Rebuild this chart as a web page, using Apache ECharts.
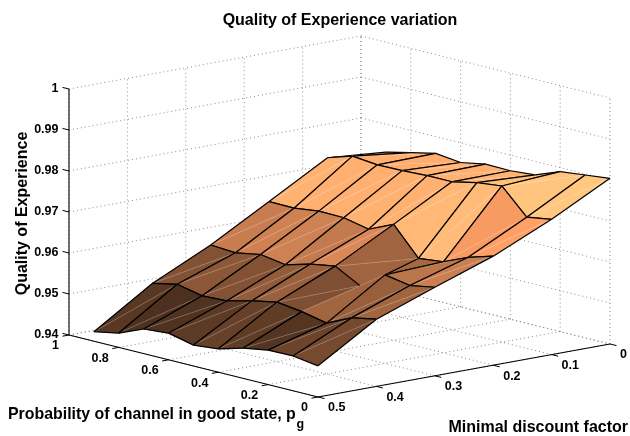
<!DOCTYPE html>
<html>
<head>
<meta charset="utf-8">
<style>html,body{margin:0;padding:0;background:#fff}#c{width:630px;height:436px}</style>
<script src="https://cdn.jsdelivr.net/npm/echarts@6/dist/echarts.min.js"></script>
</head>
<body>
<div id="c"></div>
<script>
var discount = [0.5, 0.4, 0.3, 0.2, 0.1, 0];
var channel = [0, 0.1, 0.2, 0.3, 0.4, 0.5, 0.6, 0.7, 0.8, 0.9];
// Quality of Experience: one row per discount value, one column per channel value
var qoeD50 = [.9476, .9485, .9484, .9474, .9457, .9451, .9465, .9460, .9435, .9423];
var qoeD40 = [.9564, .9552, .9524, .9537, .9545, .9533, .9518, .9515, .9528, .9515];
var qoeD30 = [.9616, .9605, .9616, .9574, .9607, .9597, .9580, .9590, .9579, .9583];
var qoeD20 = [.9666, .9648, .9622, .9615, .9683, .9656, .9669, .9670, .9662, .9663];
var qoeD10 = [.9730, .9720, .9781, .9774, .9761, .9761, .9758, .9757, .9763, .9744];
var qoeD00 = [.9804, .9797, .9790, .9767, .9762, .9763, .9752, .9759, .9746, .9732];
var qoe = [qoeD50, qoeD40, qoeD30, qoeD20, qoeD10, qoeD00];

var discountTicks = [0, 0.1, 0.2, 0.3, 0.4, 0.5];
var channelTicks = [0, 0.2, 0.4, 0.6, 0.8, 1];
var qoeTicks = [0.94, 0.95, 0.96, 0.97, 0.98, 0.99, 1];
var titleText = 'Quality of Experience variation';
var zLabel = 'Quality of Experience';
var pLabel = 'Probability of channel in good state, p';
var pSub = 'g';
var dLabel = 'Minimal discount factor';

// mesh edges around the dip at (discount row 2, channel column 3) that the view hides
var hiddenEdges = ['1,3-2,3', '2,2-2,3', '2,3-3,3'];
var partialEdges = [[2, 2, 3, 3]];

// orthographic view of the 3-D box
function project(d, p, z) {
  return [
    318 + (0.5 - d) * 584 - 249 * p,
    397 - (0.5 - d) * 106 - 62 * p - (z - 0.94) * 4100
  ];
}
var zMin = Infinity, zMax = -Infinity;
qoe.forEach(function (r) { r.forEach(function (v) { zMin = Math.min(zMin, v); zMax = Math.max(zMax, v); }); });
function copper(v) {
  var t = (v - zMin) / (zMax - zMin);
  return 'rgb(' + Math.round(255 * Math.min(1, 1.25 * t)) + ',' + Math.round(255 * 0.7812 * t) + ',' + Math.round(255 * 0.4975 * t) + ')';
}
var FONT = '"Liberation Sans", Arial, sans-serif';

// surface cells, far to near
var cells = [];
for (var i = discount.length - 2; i >= 0; i--) {
  for (var j = channel.length - 2; j >= 0; j--) cells.push([i, j]);
}
function edgeKey(a, b, c, d) {
  return (a < c || (a === c && b < d)) ? a + ',' + b + '-' + c + ',' + d : c + ',' + d + '-' + a + ',' + b;
}
function renderCell(params, api) {
  var i = api.value(0), j = api.value(1);
  function pt(a, b) { return api.coord(project(discount[a], channel[b], qoe[a][b])); }
  var corners = [[i, j], [i + 1, j], [i + 1, j + 1], [i, j + 1]];
  var pts = corners.map(function (c) { return pt(c[0], c[1]); });
  var a = pts[0], b = pts[1], c = pts[2], e = pts[3];
  var col = copper(qoe[i + 1][j]);
  function tri(p, q, r) {
    return { type: 'polygon', shape: { points: [p, q, r] }, style: { fill: col, stroke: col, lineWidth: 0.4 } };
  }
  function seg(p, q, stroke, w) {
    return { type: 'line', shape: { x1: p[0], y1: p[1], x2: q[0], y2: q[1] }, style: { stroke: stroke, lineWidth: w } };
  }
  var kids = [tri(e, b, c), tri(e, a, b), seg(e, b, 'rgba(255,255,255,0.28)', 0.7)];
  corners.forEach(function (cn, k) {
    var nx = corners[(k + 1) % 4];
    if (hiddenEdges.indexOf(edgeKey(cn[0], cn[1], nx[0], nx[1])) < 0) {
      kids.push(seg(pts[k], pts[(k + 1) % 4], '#000', 1.2));
    }
  });
  partialEdges.forEach(function (pe) {
    if (pe[0] === i && pe[1] === j) kids.push(seg(pt(pe[0], pe[1]), pt(pe[2], pe[3]), '#000', 1.2));
  });
  return { type: 'group', children: kids };
}

// dotted box grid
var gridSegs = [];
qoeTicks.forEach(function (z) {
  gridSegs.push([0.5, 1, z, 0, 1, z]);
  gridSegs.push([0, 1, z, 0, 0, z]);
});
discountTicks.forEach(function (d) {
  gridSegs.push([d, 1, 0.94, d, 1, 1]);
  gridSegs.push([d, 0, 0.94, d, 1, 0.94]);
});
channelTicks.forEach(function (p) {
  gridSegs.push([0, p, 0.94, 0, p, 1]);
  gridSegs.push([0.5, p, 0.94, 0, p, 0.94]);
});
function renderSeg(dash, color, width) {
  return function (params, api) {
    var s = api.coord(project(api.value(0), api.value(1), api.value(2)));
    var t = api.coord(project(api.value(3), api.value(4), api.value(5)));
    return {
      type: 'line',
      shape: { x1: s[0], y1: s[1], x2: t[0], y2: t[1] },
      style: { stroke: color, lineWidth: width, lineDash: dash }
    };
  };
}
// axis lines
var axisSegs = [
  [0.5, 1, 0.94, 0.5, 1, 1],
  [0.5, 1, 0.94, 0.5, 0, 0.94],
  [0.5, 0, 0.94, 0, 0, 0.94]
];
// ticks: [d, p, z, dx, dy]
var tickRows = [];
qoeTicks.forEach(function (z) { tickRows.push([0.5, 1, z, -6.5, -1.6]); });
channelTicks.forEach(function (p) { tickRows.push([0.5, p, 0.94, -6.5, 1.2]); });
discountTicks.forEach(function (d) { tickRows.push([d, 0, 0.94, 6.5, 1.6]); });
function renderTick(params, api) {
  var s = api.coord(project(api.value(0), api.value(1), api.value(2)));
  return {
    type: 'line',
    shape: { x1: s[0], y1: s[1], x2: s[0] + api.value(3), y2: s[1] + api.value(4) },
    style: { stroke: '#000', lineWidth: 1 }
  };
}
// tick labels: [d, p, z, label]
function renderLabel(dx, dy, align) {
  return function (params, api) {
    var s = api.coord(project(api.value(0), api.value(1), api.value(2)));
    return {
      type: 'text',
      x: s[0] + dx, y: s[1] + dy,
      style: { text: String(api.value(3)), font: 'bold 12.5px ' + FONT, fill: '#000', align: align, verticalAlign: 'middle' }
    };
  };
}
function labelRows(ticks, fn) { return ticks.map(function (t) { return fn(t).concat([String(t)]); }); }
var dims = ['a', 'b', 'c', { name: 'l', type: 'ordinal' }];

var option = {
  animation: false,
  backgroundColor: '#fff',
  title: {
    text: titleText, left: 340, top: 13, textAlign: 'center',
    textStyle: { fontFamily: FONT, fontWeight: 'bold', fontSize: 16, color: '#000', lineHeight: 16 },
    padding: 0
  },
  grid: { left: 0, right: 0, top: 0, bottom: 0 },
  xAxis: { type: 'value', min: 0, max: 630, show: false },
  yAxis: { type: 'value', min: 0, max: 436, inverse: true, show: false },
  graphic: [
    { type: 'text', x: 22.5, y: 213.5, rotation: Math.PI / 2, style: { text: zLabel, font: 'bold 16px ' + FONT, fill: '#000', align: 'center', verticalAlign: 'middle' } },
    { type: 'text', x: 8, y: 414.5, style: { text: pLabel, font: 'bold 15.9px ' + FONT, fill: '#000', align: 'left', verticalAlign: 'middle' } },
    { type: 'text', x: 296.5, y: 424.5, style: { text: pSub, font: 'bold 12.5px ' + FONT, fill: '#000', align: 'left', verticalAlign: 'middle' } },
    { type: 'text', x: 628, y: 428, style: { text: dLabel, font: 'bold 16px ' + FONT, fill: '#000', align: 'right', verticalAlign: 'middle' } }
  ],
  series: [
    { type: 'custom', coordinateSystem: 'cartesian2d', silent: true, data: gridSegs, renderItem: renderSeg([1, 3], '#8c8c8c', 1), clip: false, encode: { x: 0, y: 1 } },
    { type: 'custom', coordinateSystem: 'cartesian2d', silent: true, data: axisSegs, renderItem: renderSeg(null, '#000', 1.1), clip: false, encode: { x: 0, y: 1 } },
    { type: 'custom', coordinateSystem: 'cartesian2d', silent: true, data: tickRows, renderItem: renderTick, clip: false, encode: { x: 0, y: 1 } },
    { type: 'custom', coordinateSystem: 'cartesian2d', silent: true, dimensions: dims, data: labelRows(qoeTicks, function (z) { return [0.5, 1, z]; }), renderItem: renderLabel(-10.5, 0, 'right'), clip: false, encode: { x: 0, y: 1 } },
    { type: 'custom', coordinateSystem: 'cartesian2d', silent: true, dimensions: dims, data: labelRows(channelTicks, function (p) { return [0.5, p, 0.94]; }), renderItem: renderLabel(-10, 11, 'right'), clip: false, encode: { x: 0, y: 1 } },
    { type: 'custom', coordinateSystem: 'cartesian2d', silent: true, dimensions: dims, data: labelRows(discountTicks, function (d) { return [d, 0, 0.94]; }), renderItem: renderLabel(10, 11, 'left'), clip: false, encode: { x: 0, y: 1 } },
    { type: 'custom', coordinateSystem: 'cartesian2d', silent: true, data: cells, renderItem: renderCell, clip: false, encode: { x: 0, y: 1 } }
  ]
};
echarts.init(document.getElementById('c'), null, { renderer: 'canvas' }).setOption(option);
</script>
</body>
</html>
